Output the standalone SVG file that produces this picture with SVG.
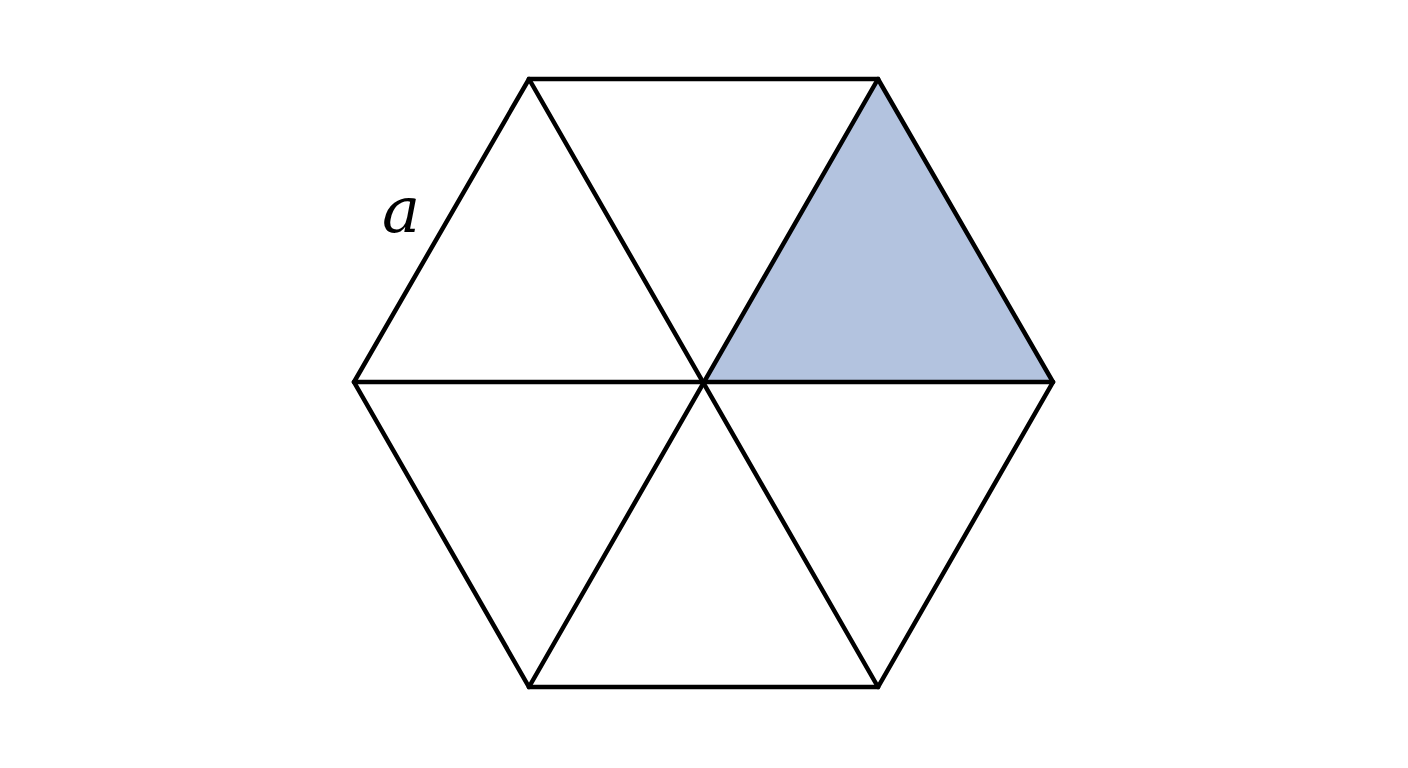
<svg xmlns="http://www.w3.org/2000/svg" width="1408" height="768" viewBox="0 0 1408 768">
<style>
.e{stroke:#000;stroke-width:4.5;fill:none;stroke-linejoin:miter;stroke-linecap:round}
.lbl{font-family:"DejaVu Serif",serif;font-style:italic;font-size:64px;fill:#000}
</style>
<rect width="1408" height="768" fill="#fff"/>
<g id="shaded">
<polygon points="704,382 878,79 1053,382" fill="#b3c3df"/>
</g>
<g id="edges">
<polygon class="e" points="529,79 878,79 1053,382 878,687 529,687 354,382"/>
<line class="e" x1="354" y1="382" x2="1053" y2="382"/>
<line class="e" x1="529" y1="79" x2="878" y2="687"/>
<line class="e" x1="878" y1="79" x2="529" y2="687"/>
</g>
<g id="label">
<text class="lbl" x="382" y="232">a</text>
</g>
</svg>
